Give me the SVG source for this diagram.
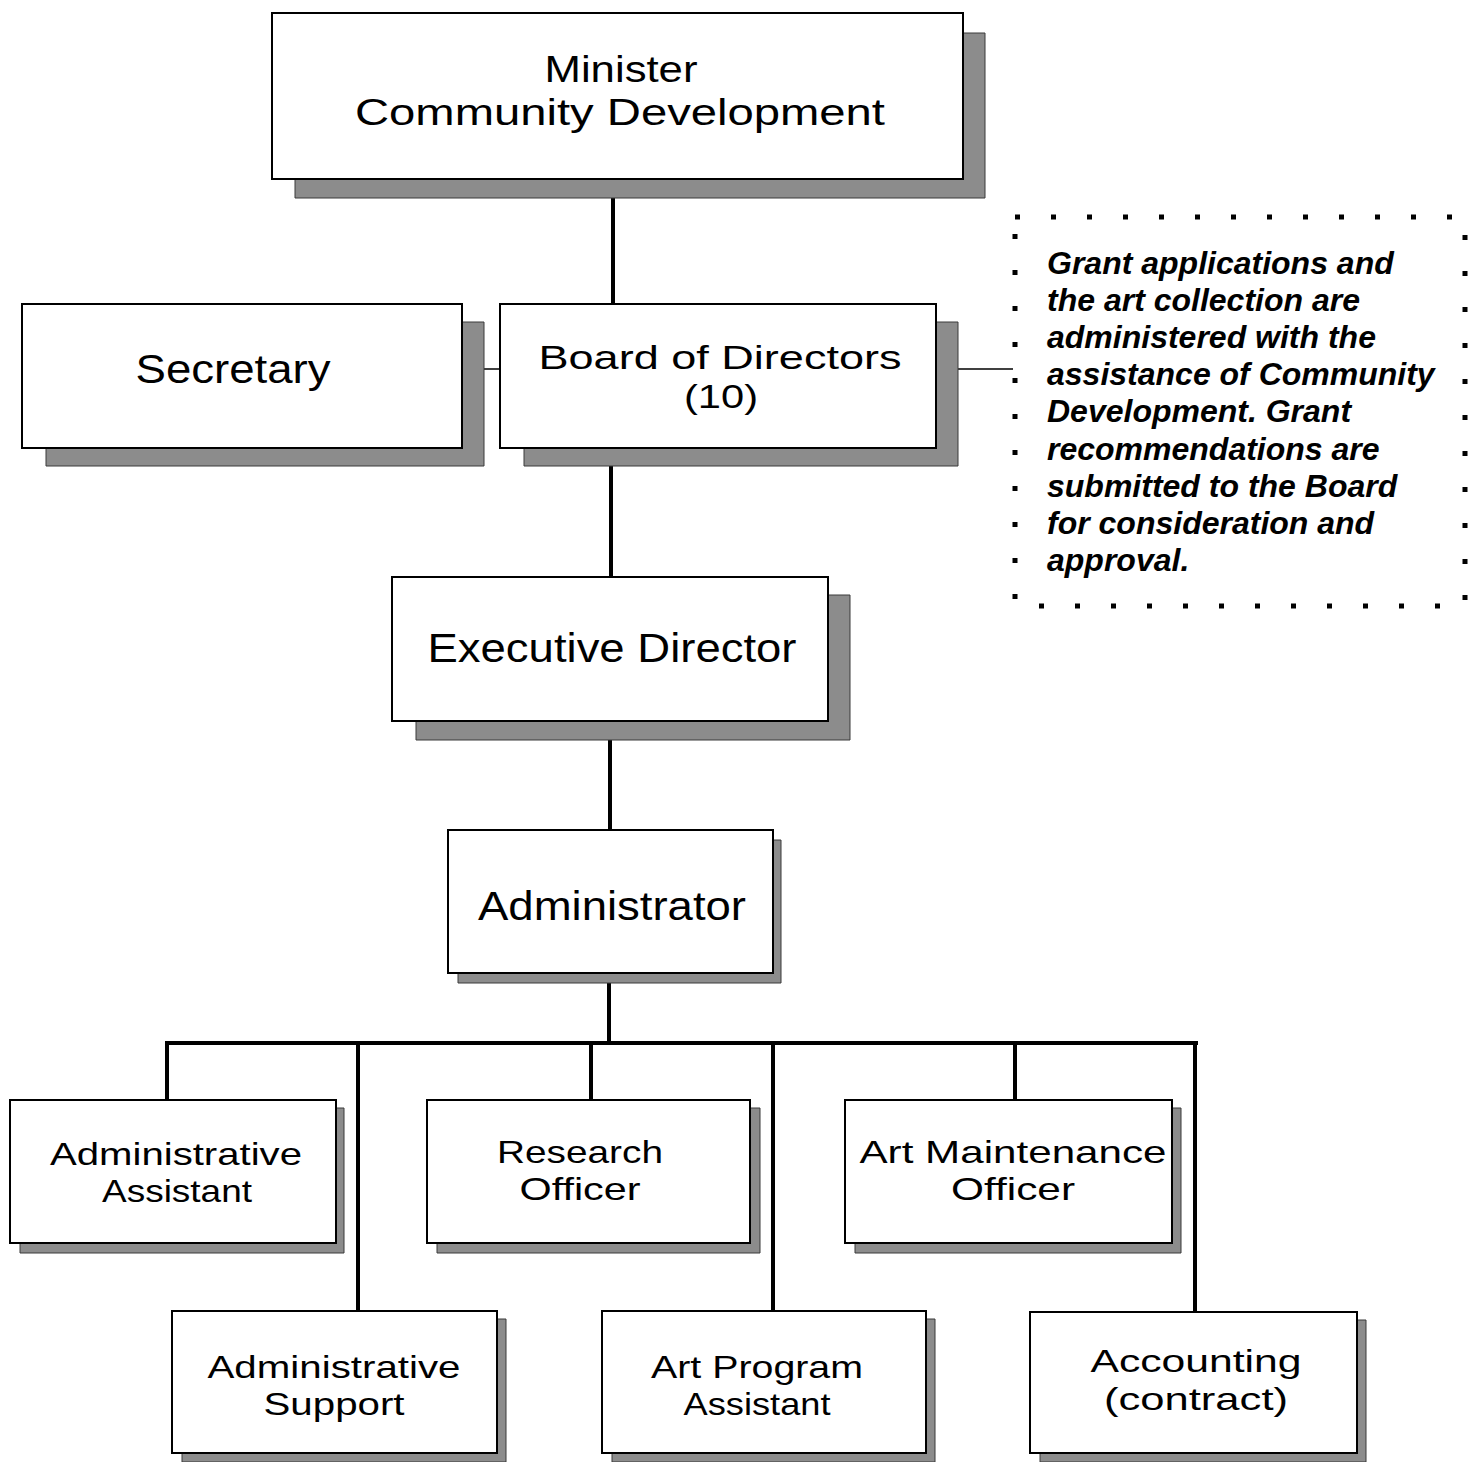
<svg xmlns="http://www.w3.org/2000/svg" width="1468" height="1462" viewBox="0 0 1468 1462">
<style>
.box{fill:#fff;stroke:#000;stroke-width:2}
.sh{fill:#8c8c8c;stroke:#3a3a3a;stroke-width:1}
.lbl{font-family:"Liberation Sans",Arial,sans-serif;fill:#000;text-anchor:middle}
.thick{stroke:#000;stroke-width:4;fill:none}
.thin{stroke:#000;stroke-width:1.5;fill:none}
.note{font-family:"Liberation Sans",Arial,sans-serif;font-style:italic;font-weight:bold;font-size:32px;fill:#000}
</style>
<rect width="1468" height="1462" fill="#fff"/>
<g id="connectors">
<line class="thick" x1="613" y1="179" x2="613" y2="304"/>
<line class="thin" x1="462" y1="369" x2="500" y2="369"/>
<line class="thin" x1="936" y1="369" x2="1013" y2="369"/>
<line class="thick" x1="611" y1="448" x2="611" y2="577"/>
<line class="thick" x1="610" y1="721" x2="610" y2="830"/>
<line class="thick" x1="609" y1="973" x2="609" y2="1043"/>
<line class="thick" x1="165" y1="1043" x2="1198" y2="1043"/>
<line class="thick" x1="167" y1="1043" x2="167" y2="1100"/>
<line class="thick" x1="358" y1="1043" x2="358" y2="1311"/>
<line class="thick" x1="591" y1="1043" x2="591" y2="1100"/>
<line class="thick" x1="773" y1="1043" x2="773" y2="1311"/>
<line class="thick" x1="1015" y1="1043" x2="1015" y2="1100"/>
<line class="thick" x1="1195" y1="1043" x2="1195" y2="1312"/>
</g>
<g id="minister">
<path class="sh" d="M963 33H985V198H295V179H963Z"/>
<rect class="box" x="272" y="13" width="691" height="166"/>
<text class="lbl" font-size="37" x="621" y="82" textLength="153" lengthAdjust="spacingAndGlyphs">Minister</text>
<text class="lbl" font-size="37" x="620" y="125" textLength="530" lengthAdjust="spacingAndGlyphs">Community Development</text>
</g>
<g id="secretary">
<path class="sh" d="M462 322H484V466H46V448H462Z"/>
<rect class="box" x="22" y="304" width="440" height="144"/>
<text class="lbl" font-size="40" x="233" y="383" textLength="195" lengthAdjust="spacingAndGlyphs">Secretary</text>
</g>
<g id="board">
<path class="sh" d="M936 322H958V466H524V448H936Z"/>
<rect class="box" x="500" y="304" width="436" height="144"/>
<text class="lbl" font-size="34" x="720" y="369" textLength="363" lengthAdjust="spacingAndGlyphs">Board of Directors</text>
<text class="lbl" font-size="34" x="721" y="408" textLength="74" lengthAdjust="spacingAndGlyphs">(10)</text>
</g>
<g id="note">
<rect x="1015" y="217" width="450" height="389" fill="none" stroke="#000" stroke-width="5" stroke-dasharray="5 31"/>
<text class="note" x="1047">
<tspan x="1047" y="274">Grant applications and</tspan>
<tspan x="1047" y="311">the art collection are</tspan>
<tspan x="1047" y="348">administered with the</tspan>
<tspan x="1047" y="385">assistance of Community</tspan>
<tspan x="1047" y="422">Development.  Grant</tspan>
<tspan x="1047" y="460">recommendations are</tspan>
<tspan x="1047" y="497">submitted to the Board</tspan>
<tspan x="1047" y="534">for consideration and</tspan>
<tspan x="1047" y="571">approval.</tspan>
</text>
</g>
<g id="executive-director">
<path class="sh" d="M828 595H850V740H416V721H828Z"/>
<rect class="box" x="392" y="577" width="436" height="144"/>
<text class="lbl" font-size="40" x="612" y="662" textLength="369" lengthAdjust="spacingAndGlyphs">Executive Director</text>
</g>
<g id="administrator">
<path class="sh" d="M773 840H781V983H458V973H773Z"/>
<rect class="box" x="448" y="830" width="325" height="143"/>
<text class="lbl" font-size="40" x="612" y="920" textLength="268" lengthAdjust="spacingAndGlyphs">Administrator</text>
</g>
<g id="admin-assistant">
<path class="sh" d="M336 1108H344V1253H20V1243H336Z"/>
<rect class="box" x="10" y="1100" width="326" height="143"/>
<text class="lbl" font-size="32" x="176" y="1165" textLength="252" lengthAdjust="spacingAndGlyphs">Administrative</text>
<text class="lbl" font-size="32" x="177" y="1202" textLength="150" lengthAdjust="spacingAndGlyphs">Assistant</text>
</g>
<g id="research-officer">
<path class="sh" d="M750 1108H760V1253H437V1243H750Z"/>
<rect class="box" x="427" y="1100" width="323" height="143"/>
<text class="lbl" font-size="32" x="580" y="1163" textLength="166" lengthAdjust="spacingAndGlyphs">Research</text>
<text class="lbl" font-size="32" x="580" y="1200" textLength="121" lengthAdjust="spacingAndGlyphs">Officer</text>
</g>
<g id="art-maintenance">
<path class="sh" d="M1172 1108H1181V1253H855V1243H1172Z"/>
<rect class="box" x="845" y="1100" width="327" height="143"/>
<text class="lbl" font-size="32" x="1013" y="1163" textLength="307" lengthAdjust="spacingAndGlyphs">Art Maintenance</text>
<text class="lbl" font-size="32" x="1013" y="1200" textLength="124" lengthAdjust="spacingAndGlyphs">Officer</text>
</g>
<g id="admin-support">
<path class="sh" d="M497 1319H506V1462H182V1453H497Z"/>
<rect class="box" x="172" y="1311" width="325" height="142"/>
<text class="lbl" font-size="32" x="334" y="1378" textLength="253" lengthAdjust="spacingAndGlyphs">Administrative</text>
<text class="lbl" font-size="32" x="334" y="1415" textLength="141" lengthAdjust="spacingAndGlyphs">Support</text>
</g>
<g id="art-program">
<path class="sh" d="M926 1319H935V1462H612V1453H926Z"/>
<rect class="box" x="602" y="1311" width="324" height="142"/>
<text class="lbl" font-size="32" x="757" y="1378" textLength="212" lengthAdjust="spacingAndGlyphs">Art Program</text>
<text class="lbl" font-size="32" x="757" y="1415" textLength="147" lengthAdjust="spacingAndGlyphs">Assistant</text>
</g>
<g id="accounting">
<path class="sh" d="M1357 1320H1366V1462H1040V1453H1357Z"/>
<rect class="box" x="1030" y="1312" width="327" height="141"/>
<text class="lbl" font-size="32" x="1196" y="1372" textLength="211" lengthAdjust="spacingAndGlyphs">Accounting</text>
<text class="lbl" font-size="32" x="1196" y="1410" textLength="184" lengthAdjust="spacingAndGlyphs">(contract)</text>
</g>
</svg>
